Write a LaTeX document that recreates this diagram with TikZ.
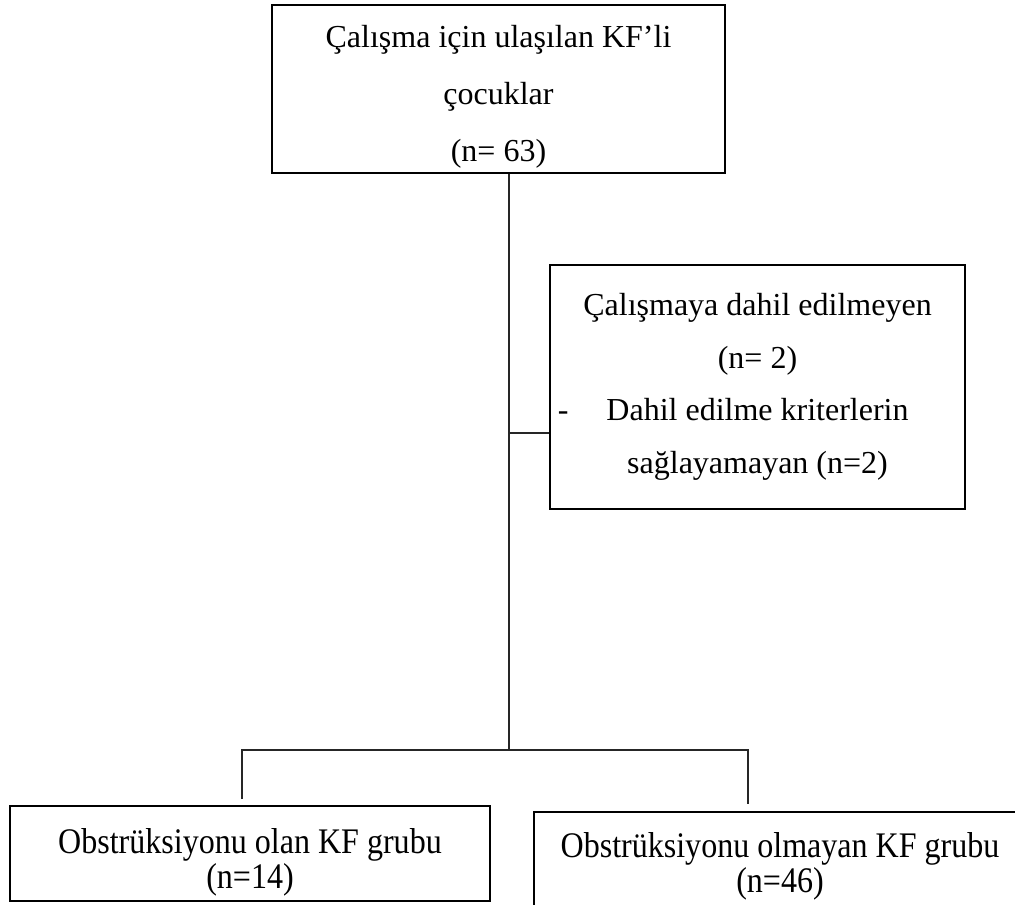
\documentclass[tikz,border=0pt]{standalone}
\usepackage{fontspec}
\setmainfont{Liberation Serif}
\newfontfamily\narrowserif[FakeStretch=0.89]{Liberation Serif}
\usepackage{tikz}
\usetikzlibrary{positioning,calc}

\begin{document}
\begin{tikzpicture}[
  x=0.5pt,y=-0.5pt,
  box/.style={draw=black,line width=0.9pt,align=center,inner sep=0pt,
    font=\fontsize{16}{27}\selectfont},
  groupbox/.style={box,font=\narrowserif\fontsize{18}{14.5}\selectfont},
  link/.style={draw=black!85,line width=0.7pt}
]
\useasboundingbox (0,0) rectangle (1015,904);

\node[box,minimum width=226.5pt,minimum height=84pt,
  font=\fontsize{16}{28.5}\selectfont]
  (top) at (498.5,89) {\rule{0pt}{18.5pt}Çalışma için ulaşılan KF’li\\çocuklar\\(n= 63)};

\node[box,minimum width=207.5pt,minimum height=122pt,
  font=\fontsize{16}{26.3}\selectfont]
  (side) at (757.5,387) {Çalışmaya dahil edilmeyen\\(n= 2)\\
  \llap{-\hspace{19pt}}Dahil edilme kriterlerin\\sağlayamayan (n=2)};

\node[groupbox,minimum width=240pt,minimum height=47.5pt]
  (left) at (250,853.5) {\rule{0pt}{21pt}Obstrüksiyonu olan KF grubu\\(n=14)};
\node[groupbox,minimum width=246pt,minimum height=50pt]
  (right) at (780,862) {\rule{0pt}{17pt}Obstrüksiyonu olmayan KF grubu\\(n=46)};

% connectors
\coordinate (j1) at (509,433);
\coordinate (j2) at (509,750);
\coordinate (lt) at (242,750);
\coordinate (rt) at (748,750);
\coordinate (lend) at (242,799);
\coordinate (rend) at (748,804);

\draw[link] (j2 |- top.south) -- (j2);
\draw[link] (j1) -- (side.west |- j1);
\draw[link] (lend) -- (lt) -- (rt) -- (rend);
\end{tikzpicture}
\end{document}
